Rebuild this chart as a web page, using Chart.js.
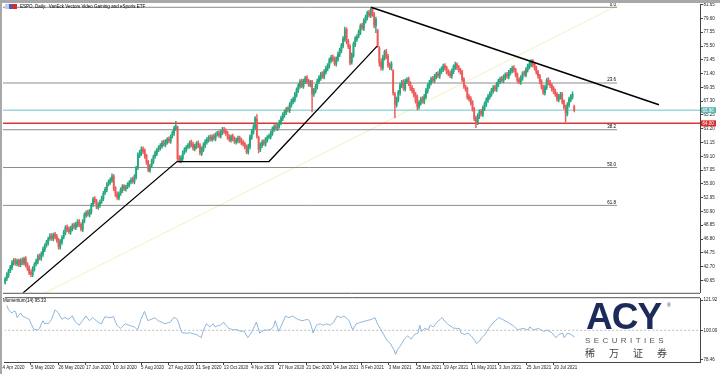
<!DOCTYPE html>
<html><head><meta charset="utf-8">
<script src="https://cdn.jsdelivr.net/npm/chart.js@4.4.0/dist/chart.umd.min.js"></script>
<style>
html,body{margin:0;padding:0;background:#fff;width:720px;height:374px;overflow:hidden;font-family:"Liberation Sans",Arial,sans-serif;}
canvas{position:absolute;left:0;}
#c1{top:0;}
#c2{top:295px;}
.t{position:absolute;white-space:nowrap;color:#000;font-size:4.5px;line-height:5px;z-index:5;}
#topbar{position:absolute;left:0;top:0;width:720px;height:3px;background:#a8a8a8;z-index:6;}
#leftbar{position:absolute;left:0;top:0;width:2px;height:374px;background:#a8a8a8;z-index:6;}
#icon{position:absolute;left:5px;top:4px;width:12px;height:5px;z-index:5;background:linear-gradient(90deg,#c8c8e8 0,#c8c8e8 33%,#4060c0 33%,#4060c0 55%,#d03030 55%,#d03030 100%);}
.logo{position:absolute;z-index:5;white-space:nowrap;}
</style></head><body>
<canvas id="c1" width="720" height="296" style="width:720px;height:296px"></canvas>
<canvas id="c2" width="720" height="79" style="width:720px;height:79px"></canvas>
<div id="topbar"></div><div id="leftbar"></div>
<div id="icon"></div>
<div class="t" style="left:20px;top:4px;">ESPO, Daily:&nbsp; VanEck Vectors Video Gaming and eSports ETF</div>
<div class="t" style="left:3px;top:298px;">Momentum(14) 95.33</div>
<div class="logo" style="left:586px;top:296px;font-size:37px;font-weight:bold;color:#1c2b5a;letter-spacing:-1px;">ACY</div>
<div class="logo" style="left:667px;top:302px;font-size:5px;color:#1c2b5a;">®</div>
<div class="logo" style="left:585px;top:336px;font-size:8px;color:#555;letter-spacing:3.4px;">SECURITIES</div>
<div class="logo" style="left:585px;top:345px;font-size:10px;color:#444;letter-spacing:14px;font-family:'Noto Sans CJK SC';">稀万证券</div>
<script>
// ---- data ----
const opens = [
40.4,40.9,41.4,42.1,42.5,43.2,43.7,43.1,43.6,43.0,
43.7,43.2,43.9,43.0,42.5,41.9,41.5,42.3,43.1,43.4,
44.3,43.9,44.5,45.2,45.9,46.2,46.9,47.3,46.8,47.5,
47.2,46.7,45.6,46.3,47.1,47.7,48.6,48.3,47.8,48.3,
48.9,48.5,48.9,49.4,49.0,48.2,49.5,50.3,50.8,50.4,
50.8,51.9,52.8,52.5,51.5,51.8,52.4,52.8,53.7,54.1,
55.0,55.2,55.5,56.2,54.4,53.5,52.9,53.6,54.0,54.7,
54.2,54.6,54.8,55.3,55.7,55.3,56.0,57.4,59.2,59.5,
60.2,59.9,59.2,58.3,57.0,57.7,58.3,59.1,59.5,60.1,
60.3,60.6,61.2,60.8,61.2,61.7,61.3,62.1,62.5,63.2,
63.4,58.9,58.4,58.8,59.7,60.0,60.5,60.6,61.2,60.9,
60.2,60.5,61.1,60.8,59.5,60.1,60.7,61.2,61.5,62.0,
61.6,62.1,61.7,62.4,62.6,62.1,62.6,63.1,62.9,62.6,
62.0,61.5,62.1,61.8,61.2,61.4,61.9,61.5,61.2,61.0,
60.6,59.7,60.5,61.9,62.7,63.4,64.6,61.9,60.1,60.7,
61.3,60.9,61.5,62.0,62.0,62.5,63.1,63.6,63.2,63.6,
64.1,64.7,65.2,65.6,66.2,65.9,66.7,67.2,67.5,68.2,
68.9,69.5,70.3,69.5,70.2,70.8,70.3,69.7,70.2,68.3,
68.8,69.4,70.2,70.7,71.4,70.9,71.6,72.1,72.5,73.3,
73.9,73.6,72.8,73.5,74.2,74.8,75.5,76.5,78.0,76.2,
75.5,73.1,74.1,75.7,76.5,77.0,77.5,78.6,78.1,79.2,
79.7,80.5,80.0,81.0,80.3,78.5,77.8,75.2,73.1,72.2,
73.7,74.7,74.0,72.7,72.2,71.8,68.4,66.7,67.5,68.5,
69.6,70.2,69.1,70.2,70.6,70.0,69.3,68.9,68.3,68.0,
66.4,67.0,67.7,67.2,67.9,68.8,69.5,70.0,70.7,70.3,
70.9,71.4,71.0,71.7,72.0,72.6,72.3,71.7,71.5,71.0,
71.7,72.3,72.8,72.4,72.0,71.7,70.6,69.4,69.2,68.0,
67.7,67.2,66.2,64.8,64.1,65.0,65.8,65.3,66.2,66.8,
67.4,67.9,68.3,68.8,69.4,69.0,69.7,70.2,70.7,70.3,
70.8,71.3,70.9,71.5,71.8,72.3,72.0,71.3,70.5,70.1,
70.7,71.5,71.2,71.9,72.4,72.7,73.3,72.8,72.3,71.7,
71.1,70.3,69.5,68.5,69.3,70.5,70.1,69.7,69.2,68.8,
68.4,67.5,67.9,68.4,67.3,66.5,65.4,66.7,67.5,67.9,
66.5];
const highs = [
41.1,41.8,42.3,42.9,43.6,43.9,43.9,43.8,43.8,43.9,
44.0,44.1,44.2,43.3,42.8,42.2,42.7,43.3,43.8,44.5,
44.6,44.9,45.6,46.1,46.6,47.1,47.6,47.6,47.7,47.8,
47.5,46.9,46.7,47.3,48.1,48.8,48.9,48.6,48.7,49.1,
49.2,49.3,49.7,49.7,49.2,49.7,50.7,51.0,51.1,51.2,
52.1,53.0,53.1,52.7,52.2,52.6,53.2,53.9,54.5,55.2,
55.6,55.9,56.5,56.4,54.6,53.8,53.8,54.4,54.9,54.9,
54.8,55.2,55.5,55.9,56.0,56.4,57.6,59.6,60.0,60.5,
60.5,60.2,59.4,58.5,57.9,58.7,59.3,59.9,60.3,60.7,
61.0,61.4,61.5,61.6,61.9,62.0,62.3,62.9,63.6,64.3,
63.6,59.2,59.2,59.9,60.4,60.7,61.0,61.4,61.5,61.2,
60.9,61.3,61.4,61.0,60.5,61.1,61.6,61.9,62.2,62.3,
62.3,62.4,62.6,62.8,62.9,63.0,63.4,63.4,63.2,62.8,
62.3,62.3,62.4,62.0,61.8,62.1,62.1,61.8,61.5,61.2,
60.8,60.9,62.3,63.1,63.8,65.0,65.3,62.1,61.1,61.5,
61.6,61.9,62.2,62.4,62.9,63.5,63.8,63.9,64.0,64.5,
65.1,65.6,66.0,66.4,66.5,67.1,67.6,67.9,68.6,69.3,
69.9,70.5,70.6,70.6,71.0,71.1,70.6,70.4,70.4,69.2,
69.8,70.6,71.1,71.6,71.7,72.0,72.5,72.9,73.7,74.1,
74.2,73.9,73.9,74.6,75.2,75.9,76.9,78.3,78.2,76.5,
75.7,74.5,76.1,76.9,77.2,77.9,78.8,78.9,79.6,80.1,
80.7,80.8,81.26,81.1,80.5,79.8,78.0,75.4,73.6,74.1,
74.9,75.0,74.3,73.0,73.2,72.0,68.6,67.9,68.9,70.0,
70.4,70.5,70.6,70.8,70.9,70.2,69.6,69.2,68.6,68.2,
67.4,67.9,68.0,68.3,69.2,69.9,70.4,70.9,71.0,71.3,
71.6,71.7,72.1,72.4,72.8,72.9,72.5,72.0,71.8,72.1,
72.7,73.1,73.0,72.6,72.2,71.9,70.8,69.7,69.4,68.3,
68.0,67.4,66.4,65.1,65.4,66.0,66.1,66.6,67.2,67.8,
68.3,68.7,69.2,69.6,69.7,70.1,70.6,70.9,71.0,71.2,
71.5,71.6,71.9,72.2,72.5,72.6,72.2,71.5,70.8,71.1,
71.7,71.8,72.3,72.8,73.1,73.5,73.5,73.0,72.5,71.9,
71.3,70.5,69.7,69.7,70.7,70.8,70.4,69.9,69.5,69.1,
68.6,68.3,68.6,68.6,67.5,66.7,67.1,67.9,68.3,68.7,
66.7];
const lows = [
40.1,40.6,41.1,41.8,42.2,42.9,42.9,42.8,42.7,42.7,
43.0,42.9,42.6,42.1,41.5,41.2,41.2,42.0,42.8,43.1,
43.7,43.6,44.2,44.9,45.6,45.9,46.6,46.6,46.5,46.8,
46.3,45.3,45.3,46.0,46.8,47.4,47.9,47.6,47.5,48.0,
48.3,48.2,48.6,48.6,48.0,47.9,49.2,50.0,50.2,50.1,
50.5,51.6,52.1,51.3,51.2,51.5,52.1,52.5,53.4,53.8,
54.7,54.9,55.2,54.0,53.1,52.7,52.6,53.3,53.7,54.0,
53.9,54.3,54.5,55.0,55.1,55.0,55.7,57.1,58.9,59.2,
59.5,58.8,57.9,56.8,56.7,57.4,58.0,58.8,59.2,59.8,
60.0,60.3,60.6,60.5,60.9,61.1,61.0,61.8,62.2,62.9,
58.4,58.2,58.1,58.5,59.4,59.7,60.2,60.3,60.5,60.0,
59.9,60.2,60.4,59.3,59.2,59.8,60.4,60.9,61.2,61.4,
61.3,61.5,61.4,62.1,61.9,61.8,62.3,62.5,62.2,61.6,
61.3,61.2,61.4,61.0,60.9,61.1,61.1,60.8,60.6,60.2,
59.5,59.4,60.2,61.6,62.4,63.1,61.8,59.6,59.8,60.4,
60.7,60.6,61.2,61.7,61.7,62.2,62.8,63.0,62.9,63.3,
63.8,64.4,64.9,65.3,65.7,65.6,66.4,66.9,67.2,67.9,
68.6,69.2,69.3,69.2,69.9,69.9,69.5,69.4,65.7,68.0,
68.5,69.1,69.9,70.4,70.7,70.6,71.3,71.8,72.2,73.0,
73.2,72.6,72.5,73.2,73.9,74.5,75.2,76.2,75.8,75.1,
72.7,72.8,73.8,75.4,76.2,76.7,77.2,77.9,77.8,78.9,
79.4,79.8,79.7,79.9,78.2,77.5,75.3,72.5,71.9,71.9,
73.4,73.6,72.3,72.0,71.9,68.2,64.8,66.4,67.2,68.2,
69.3,68.9,68.8,69.9,69.6,68.9,68.5,67.9,67.0,66.0,
66.1,66.7,67.0,66.9,67.6,68.5,69.2,69.7,70.1,70.0,
70.6,70.8,70.7,71.4,71.7,71.9,71.3,71.1,70.8,70.7,
71.4,72.0,72.0,71.6,71.3,70.2,69.2,68.8,67.6,67.3,
66.7,65.8,64.4,63.35,63.8,64.7,65.1,65.0,65.9,66.5,
67.1,67.6,68.0,68.5,68.8,68.7,69.4,69.9,70.1,70.0,
70.5,70.7,70.6,71.2,71.5,71.6,70.9,70.1,69.9,69.8,
70.4,71.0,70.9,71.6,72.1,72.4,72.4,71.9,71.3,70.7,
69.9,69.1,68.3,68.2,69.0,69.7,69.3,68.8,68.4,68.0,
67.3,67.2,67.6,66.9,66.1,64.2,65.1,66.4,67.2,67.6,
65.7];
const closes = [
40.8,41.5,42.0,42.6,43.3,43.6,43.2,43.5,43.0,43.6,
43.3,43.8,42.9,42.4,41.8,41.6,42.4,43.0,43.5,44.2,
44.0,44.6,45.3,45.8,46.3,46.8,47.2,46.9,47.4,47.1,
46.6,45.7,46.4,47.0,47.8,48.5,48.2,47.9,48.4,48.8,
48.6,49.0,49.3,48.9,48.3,49.4,50.4,50.7,50.5,50.9,
51.8,52.7,52.4,51.6,51.9,52.3,52.9,53.6,54.2,54.9,
55.3,55.6,56.1,54.3,53.4,53.0,53.5,54.1,54.6,54.3,
54.5,54.9,55.2,55.6,55.4,56.1,57.3,59.3,59.6,60.1,
59.8,59.1,58.2,57.1,57.6,58.4,59.0,59.6,60.0,60.4,
60.7,61.1,60.9,61.3,61.6,61.4,62.0,62.6,63.3,63.6,
58.8,58.5,58.9,59.6,60.1,60.4,60.7,61.1,60.8,60.3,
60.6,61.0,60.7,59.6,60.2,60.8,61.3,61.6,61.9,61.7,
62.0,61.8,62.3,62.5,62.2,62.7,63.0,62.8,62.5,61.9,
61.6,62.0,61.7,61.3,61.5,61.8,61.4,61.1,60.9,60.5,
59.8,60.6,62.0,62.8,63.5,64.8,62.1,60.2,60.8,61.2,
61.0,61.6,61.9,62.1,62.6,63.2,63.5,63.3,63.7,64.2,
64.8,65.3,65.7,66.1,66.0,66.8,67.3,67.6,68.3,69.0,
69.6,70.2,69.6,70.3,70.7,70.2,69.8,70.1,68.4,68.9,
69.5,70.3,70.8,71.3,71.0,71.7,72.2,72.6,73.4,73.8,
73.5,72.9,73.6,74.3,74.9,75.6,76.6,77.9,76.1,75.4,
73.0,74.2,75.8,76.6,76.9,77.6,78.5,78.2,79.3,79.8,
80.4,80.1,81.0,80.2,78.6,79.5,75.4,73.0,72.3,73.8,
74.6,73.9,72.6,72.3,72.9,68.5,66.8,67.6,68.6,69.7,
70.1,69.2,70.3,70.5,69.9,69.2,68.8,68.2,67.3,66.5,
67.1,67.6,67.3,68.0,68.9,69.6,70.1,70.6,70.4,71.0,
71.3,71.1,71.8,72.1,72.5,72.2,71.6,71.4,71.1,71.8,
72.4,72.7,72.3,71.9,71.6,70.5,69.5,69.1,67.9,67.6,
67.0,66.1,64.7,64.0,65.1,65.7,65.4,66.3,66.9,67.5,
68.0,68.4,68.9,69.3,69.1,69.8,70.3,70.6,70.4,70.9,
71.2,71.0,71.6,71.9,72.2,71.9,71.2,70.4,70.2,70.8,
71.4,71.3,72.0,72.5,72.8,73.2,72.7,72.2,71.6,71.0,
70.2,69.4,68.6,69.4,70.4,70.0,69.6,69.1,68.7,68.3,
67.6,68.0,68.3,67.2,66.4,65.5,66.8,67.6,68.0,68.3,
65.96];
const momentum = [
118.0,114.8,113.5,112.6,113.9,113.7,109.2,111.0,112.6,110.4,
109.8,109.2,108.6,108.0,105.0,102.5,100.3,100.6,99.9,101.4,
104.5,107.0,104.7,105.2,104.7,106.2,108.0,111.5,114.8,113.8,
112.6,110.2,108.0,108.8,109.2,108.5,108.0,109.4,110.4,108.0,
105.9,104.6,103.7,105.4,107.0,108.8,110.4,108.5,107.0,108.2,
109.2,108.0,107.0,106.0,105.2,104.7,107.4,109.9,109.5,109.4,
109.2,109.6,109.9,106.5,103.7,102.4,101.4,102.6,103.8,104.7,
104.2,103.7,103.2,102.9,102.5,101.4,100.3,104.2,108.0,111.0,
113.7,110.2,107.0,107.5,108.0,108.6,109.2,108.0,107.0,106.4,
105.9,105.3,104.7,105.2,105.6,105.9,107.6,109.2,108.8,108.0,
104.7,100.5,98.0,98.2,98.0,97.8,98.2,98.0,97.6,97.3,
97.0,96.3,95.5,94.7,99.2,102.0,104.7,103.6,102.5,103.6,
104.7,102.5,103.0,103.4,103.7,104.8,105.9,104.2,102.8,101.4,
101.0,100.6,100.3,100.5,100.3,99.8,99.2,99.4,99.2,97.0,
94.7,96.3,98.0,100.5,103.2,105.9,102.0,98.0,99.0,99.8,
100.3,100.0,100.4,100.3,101.4,102.5,107.0,103.0,99.2,101.8,
104.7,107.5,110.4,109.8,109.2,109.8,110.4,109.6,108.8,108.0,
107.6,107.2,107.0,107.4,107.7,108.0,106.5,103.0,98.0,101.0,
103.7,104.2,104.7,104.2,103.7,104.2,104.7,104.2,103.7,104.8,
105.9,108.2,110.4,109.8,109.2,109.8,110.4,109.3,108.2,107.0,
103.5,100.3,102.5,104.7,105.1,105.5,105.9,106.3,106.6,107.0,
107.3,107.6,108.0,108.6,109.2,105.9,103.5,101.4,99.2,97.0,
94.8,92.5,91.4,90.3,88.0,85.8,82.5,85.8,87.5,89.2,
91.4,93.6,94.8,95.9,94.7,93.6,95.3,97.0,97.5,98.0,
103.7,99.2,100.3,101.4,100.8,100.6,103.7,103.1,102.5,104.2,
105.9,107.0,108.1,109.2,107.5,105.9,104.8,103.7,103.0,102.2,
101.4,101.6,101.2,101.4,98.0,97.5,97.0,97.5,98.0,97.0,
95.9,94.2,92.5,90.3,91.4,92.5,94.7,95.8,97.0,99.2,
101.4,102.9,104.4,105.9,107.0,108.1,109.2,108.6,108.0,107.3,
106.6,105.9,105.2,104.4,103.7,102.6,101.4,100.3,100.7,101.0,
101.4,101.0,100.7,100.3,102.5,101.4,100.3,100.7,101.0,101.4,
100.6,99.9,99.2,99.7,100.3,99.5,98.8,98.0,96.4,94.7,
95.8,97.0,97.5,98.0,94.7,96.3,98.0,97.5,96.8,95.9,
95.33];
// tick labels
const priceTicks = [81.65,79.60,77.55,75.50,73.45,71.40,69.35,67.30,65.25,63.20,61.15,59.10,57.05,55.00,52.95,50.90,48.85,46.80,44.75,42.70,40.65];
const momTicks = [121.92,100.00,78.46];
const dateTickBars = [-4,14,30,46,62,78,94,110,126,142,158,174,190,206,222,238,254,270,286,302,318];
const dateTickLabels = ["14 Apr 2020","5 May 2020","26 May 2020","17 Jun 2020","10 Jul 2020","5 Aug 2020","27 Aug 2020","21 Sep 2020","13 Oct 2020","4 Nov 2020","27 Nov 2020","21 Dec 2020","14 Jan 2021","8 Feb 2021","3 Mar 2021","25 Mar 2021","19 Apr 2021","11 May 2021","3 Jun 2021","25 Jun 2021","20 Jul 2021"];
// drawn objects (bar index, price)
const fibLevels = [81.26,70.00,63.05,57.43,51.80];
const fibNames = ["0.0","23.6","38.2","50.0","61.8"];
const fibEndBar = 354.8;
const supportLine = 64.00;
const lastPrice = 65.96;
const trendUp = [[10.4,38.78],[99.7,58.32],[153.0,58.32],[215.7,75.49]];
const trendDown = [[212.2,81.26],[379.1,66.75]];
const yellowLine = [[22,38.63],[356.5,81.7]];

// ---- chart ----
const X_MIN = -1.2, X_MAX = 402.9;
const GREEN = '#26a77f', RED = '#ee5a5a';
const FONT = {family:'Liberation Sans, Arial, sans-serif', size:4.5};
const idx = closes.map((_, i) => i);
const cols = idx.map(i => closes[i] >= opens[i] ? GREEN : RED);
const pts = a => a.map(p => ({x:p[0], y:p[1]}));
const hline = (v) => [{x:X_MIN - 5, y:v},{x:X_MAX + 5, y:v}];
const lineDs = (data, color, width, order, extra) => Object.assign({type:'line', data, borderColor:color, borderWidth:width, pointRadius:0, fill:false, order, clip:0, tension:0}, extra||{});

const fibDs = fibLevels.map(v => lineDs([{x:X_MIN - 5, y:v},{x:fibEndBar, y:v}], '#8c8c8c', 1, 9));

const overlay1 = {
  id:'overlay1',
  afterDatasetsDraw(chart){
    const {ctx, scales:{x,y}} = chart;
    ctx.save();
    ctx.font = '4.5px "Liberation Sans", Arial';
    ctx.fillStyle = '#000';
    ctx.textAlign = 'right';
    ctx.textBaseline = 'bottom';
    fibLevels.forEach((v,k) => {
      ctx.fillText(fibNames[k], x.getPixelForValue(fibEndBar) - 1, y.getPixelForValue(v) - 0.5);
    });
    ctx.restore();
  },
  afterDraw(chart){
    const {ctx, scales:{y}, chartArea} = chart;
    ctx.save();
    ctx.font = '4.5px "Liberation Sans", Arial';
    ctx.textBaseline = 'middle';
    ctx.textAlign = 'left';
    const box = (v, bg, fg) => {
      const py = y.getPixelForValue(v);
      ctx.fillStyle = bg;
      ctx.fillRect(chartArea.right + 1, py - 3, 15, 6);
      ctx.fillStyle = fg;
      ctx.fillText(v.toFixed(2), chartArea.right + 2.5, py + 0.3);
    };
    box(lastPrice, '#5bb8b4', '#ffffff');
    box(supportLine, '#e02b2b', '#ffffff');
    ctx.strokeStyle = '#555';
    ctx.lineWidth = 1;
    ctx.beginPath();
    ctx.moveTo(chartArea.left, chartArea.bottom + 0.5);
    ctx.lineTo(chartArea.right, chartArea.bottom + 0.5);
    ctx.stroke();
    ctx.restore();
  }
};

new Chart(document.getElementById('c1'), {
  type:'bar',
  data:{datasets:[
    lineDs(pts(yellowLine), '#f4efc2', 1, 10),
    ...fibDs,
    lineDs(hline(lastPrice), '#6cc4c4', 1, 8),
    lineDs(hline(supportLine), '#dc3535', 1.5, 8),
    {type:'bar', data: idx.map(i => ({x:i, y:[lows[i], highs[i]]})), backgroundColor: cols, barThickness:0.8, grouped:false, order:6},
    {type:'bar', data: idx.map(i => ({x:i, y:[opens[i], closes[i]]})), backgroundColor: cols, barThickness:1.2, grouped:false, minBarLength:1, order:5},
    lineDs(pts(trendUp), '#000', 1.3, 1),
    lineDs(pts(trendDown), '#000', 1.6, 1)
  ]},
  options:{
    responsive:false, animation:false, events:[],
    layout:{padding:{left:3, top:4, right:0, bottom:2}},
    plugins:{legend:{display:false}, tooltip:{enabled:false}},
    scales:{
      x:{type:'linear', min:X_MIN, max:X_MAX, offset:false, display:false},
      y:{type:'linear', position:'right', min:38.8, max:81.75,
        afterBuildTicks: s => { s.ticks = priceTicks.map(v => ({value:v})); },
        afterFit: s => { s.width = 20; },
        ticks:{font:FONT, color:'#222', padding:0.5, callback: v => Number(v).toFixed(2)},
        grid:{drawOnChartArea:false, tickLength:3, color:'#444'},
        border:{color:'#444', width:1}
      }
    }
  },
  plugins:[overlay1]
});

const overlay2 = {
  id:'overlay2',
  afterDraw(chart){
    const {ctx, chartArea} = chart;
    ctx.save();
    ctx.strokeStyle = '#555';
    ctx.lineWidth = 1;
    ctx.beginPath();
    ctx.moveTo(chartArea.left, chartArea.top - 0.5);
    ctx.lineTo(chartArea.right, chartArea.top - 0.5);
    ctx.stroke();
    ctx.restore();
  }
};

new Chart(document.getElementById('c2'), {
  type:'line',
  data:{datasets:[
    lineDs(hline(100), '#bdbdbd', 1, 5, {borderDash:[2,2]}),
    lineDs(idx.map(i => ({x:i, y:momentum[i]})), '#8ab4dc', 1, 1)
  ]},
  options:{
    responsive:false, animation:false, events:[],
    layout:{padding:{left:3, top:1, right:0, bottom:0}},
    plugins:{legend:{display:false}, tooltip:{enabled:false}},
    scales:{
      x:{type:'linear', min:X_MIN, max:X_MAX, offset:false, position:'bottom',
        afterBuildTicks: s => { s.ticks = dateTickBars.map(v => ({value:v})); },
        afterFit: s => { s.height = 12; },
        ticks:{font:FONT, color:'#222', padding:0, autoSkip:false, maxRotation:0, minRotation:0, align:'start',
          callback: (v, i) => dateTickLabels[i]},
        grid:{drawOnChartArea:false, tickLength:3, color:'#444'},
        border:{color:'#444', width:1}
      },
      y:{type:'linear', position:'right', min:77.0, max:123.3,
        afterBuildTicks: s => { s.ticks = momTicks.map(v => ({value:v})); },
        afterFit: s => { s.width = 20; },
        ticks:{font:FONT, color:'#222', padding:0.5, callback: v => Number(v).toFixed(2)},
        grid:{drawOnChartArea:false, tickLength:3, color:'#444'},
        border:{color:'#444', width:1}
      }
    }
  },
  plugins:[overlay2]
});
</script>
</body></html>
